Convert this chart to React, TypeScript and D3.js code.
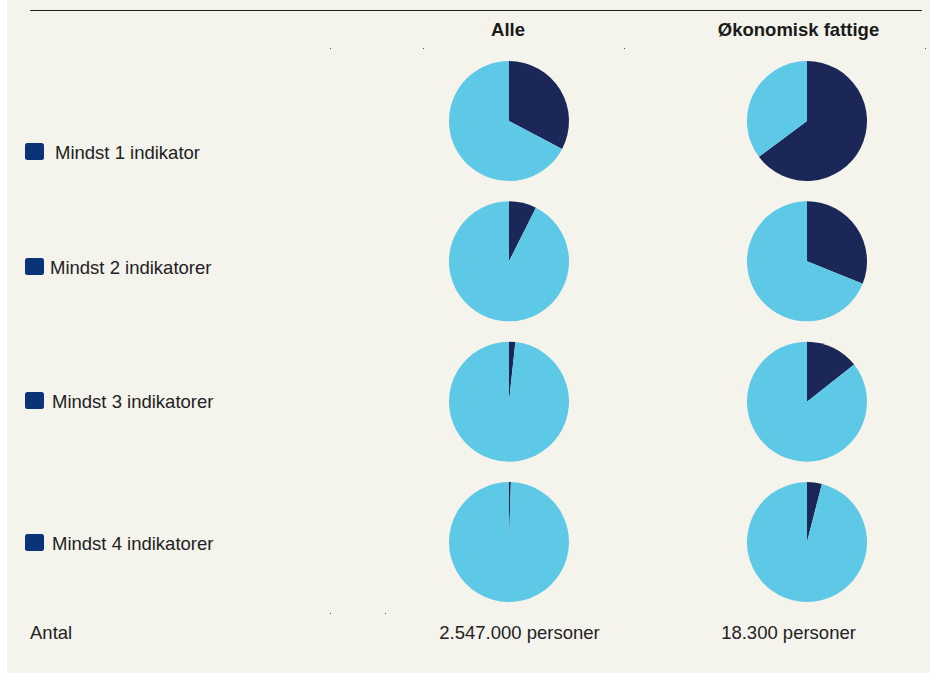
import React from "react";
import * as d3 from "d3";

const categories = ["Mindst 1 indikator", "Mindst 2 indikatorer", "Mindst 3 indikatorer", "Mindst 4 indikatorer"];
const groups = ["Alle", "Økonomisk fattige"];
const alleShare = [0.327, 0.074, 0.017, 0.005];
const fattigeShare = [0.648, 0.311, 0.144, 0.04];
const counts = ["2.547.000 personer", "18.300 personer"];

const W = 930;
const H = 673;
const DARK = "#1b2857";
const LIGHT = "#5ec9e6";
const LEGEND = "#0b3478";
const BG = "#f4f3ec";
const FONT = "'Liberation Sans', Arial, sans-serif";

export default function App() {
  const x = d3.scalePoint<string>().domain(groups).range([509, 807]);
  const y = d3.scalePoint<string>().domain(categories).range([121, 542]);
  const r = 60;
  const pie = d3.pie<number>().sort(null).value((d) => d);
  const arc = d3.arc<d3.PieArcDatum<number>>().innerRadius(0).outerRadius(r);
  const series = [alleShare, fattigeShare];
  const legendTextX = [55, 50, 52, 52];
  const legendSqY = [143, 258, 392, 534];
  const headerX = [508, 798.5];
  const countX = [519.5, 788.5];

  return (
    <svg width={W} height={H} style={{ position: "absolute", left: 0, top: 0 }} fontFamily={FONT}>
      <rect x={0} y={0} width={W} height={H} fill="#ffffff" />
      <rect x={7} y={0} width={W - 7} height={H} fill={BG} />
      <line x1={30} x2={922} y1={10.5} y2={10.5} stroke="#222" strokeWidth={1} />
      {groups.map((g, gi) => (
        <text key={g} x={headerX[gi]} y={36} textAnchor="middle" fontWeight="bold" fontSize={18.5} fill="#1a1a1a">
          {g}
        </text>
      ))}
      {[330, 423, 624, 925].map((dx) => (
        <rect key={dx} x={dx} y={48} width={1} height={1} fill="#555" />
      ))}
      {[330, 385].map((dx) => (
        <rect key={"b" + dx} x={dx} y={613} width={1} height={1} fill="#555" />
      ))}
      {categories.map((c, i) => {
        const sqY = legendSqY[i];
        return (
          <g key={"leg" + c}>
            <rect x={25} y={sqY} width={19} height={17} rx={2.5} fill={LEGEND} />
            <text x={legendTextX[i]} y={sqY + 16} fontSize={18.5} fill="#222">
              {c}
            </text>
          </g>
        );
      })}
      {groups.map((g, gi) =>
        categories.map((c, ci) => {
          const arcs = pie([series[gi][ci], 1 - series[gi][ci]]);
          return (
            <g key={g + c} transform={`translate(${x(g)},${y(c)})`}>
              {arcs.map((a, k) => (
                <path key={k} d={arc(a)!} fill={k === 0 ? DARK : LIGHT} />
              ))}
            </g>
          );
        })
      )}
      <text x={30} y={639} fontSize={18.5} fill="#222">Antal</text>
      {groups.map((g, gi) => (
        <text key={"n" + g} x={countX[gi]} y={639} fontSize={18.5} textAnchor="middle" fill="#222">
          {counts[gi]}
        </text>
      ))}
    </svg>
  );
}
